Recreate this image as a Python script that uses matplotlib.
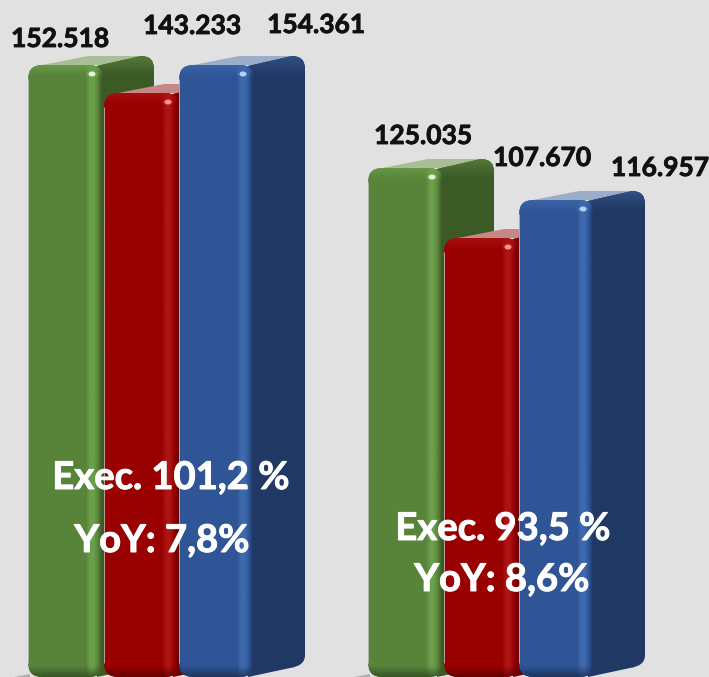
import numpy as np
import matplotlib
matplotlib.use("Agg")
import matplotlib.pyplot as plt
from matplotlib.colors import to_rgb
from matplotlib.patches import Ellipse, FancyBboxPatch, PathPatch, Polygon
from matplotlib.path import Path
import matplotlib.patheffects as pe

# bars are not to scale in the original, so heights are read off the picture
green_heights = [612, 509]
red_heights = [584, 439]
blue_heights = [612, 477]

green_labels = ["152.518", "125.035"]
red_labels = ["143.233", "107.670"]
blue_labels = ["154.361", "116.957"]

exec_labels = ["Exec. 101,2 %", "Exec. 93,5 %"]
yoy_labels = ["YoY: 7,8%", "YoY: 8,6%"]

# front, band, side, top, highlight
green_cols = ["#58843a", "#6b9f4b", "#3b5a25", "#a9bd97", "#eef8e0"]
red_cols = ["#990000", "#ad1414", "#6e0000", "#c78787", "#ff9c9c"]
blue_cols = ["#2f5597", "#3f69ad", "#203864", "#9badc9", "#bcd8ff"]

fig = plt.figure(figsize=(7.09, 6.77), dpi=100, facecolor="#e1e1e1")
ax = fig.add_axes([0, 0, 1, 1])
ax.set_axis_off()


def draw_bar(x0, h, cols, z):
    x1 = x0 + 60      # end of flat front
    x2 = x0 + 75      # end of bright band
    x3 = x0 + 126     # back of the side face
    rise = 9

    # top face
    ax.add_patch(Polygon([(x0 + 14, h), (x0 + 60, h + rise), (x3 - 8, h + rise), (x2, h)],
                         closed=True, fc=cols[3], ec="none", zorder=z))

    # side face, lighter along the top edge
    verts = [(x2 - 6, h - 1), (x3 - 13, h + rise), (x3, h + rise), (x3, h + rise - 13),
             (x3, 22), (x3, 11), (x3 - 15, 9), (x2 - 6, 0), (x2 - 6, h - 1)]
    codes = [Path.MOVETO, Path.LINETO, Path.CURVE3, Path.CURVE3, Path.LINETO,
             Path.CURVE3, Path.CURVE3, Path.LINETO, Path.CLOSEPOLY]
    side = PathPatch(Path(verts, codes), fc=cols[2], ec="none", zorder=z + 0.1)
    ax.add_patch(side)
    top_rgb = np.array(to_rgb(cols[1])) * 0.75
    side_grad = np.linspace(top_rgb, np.array(to_rgb(cols[2])), 6).reshape(6, 1, 3)
    im = ax.imshow(side_grad, extent=(x2 - 6, x3, h - 12, h + rise), aspect="auto", origin="upper",
                   interpolation="bilinear", zorder=z + 0.15)
    im.set_clip_path(side)

    # front face with its shaded corner band
    box = FancyBboxPatch((x0, 0), x2 - x0, h, boxstyle="round,pad=0,rounding_size=14",
                         fc=cols[0], ec="none", zorder=z + 0.2)
    ax.add_patch(box)
    stops = [cols[0], cols[1], cols[1], cols[0], cols[2]]
    grad = np.array([[to_rgb(c) for c in stops]])
    im = ax.imshow(grad, extent=(x1 - 4, x2 + 1, 0, h), aspect="auto",
                   interpolation="bilinear", zorder=z + 0.3)
    im.set_clip_path(box)

    # darker foot and lighter head of the front face
    foot = np.zeros((8, 1, 4))
    foot[:, :, :3] = np.array(to_rgb(cols[2])) * 0.8
    foot[:, :, 3] = np.linspace(0, 0.75, 8).reshape(8, 1)
    im = ax.imshow(foot, extent=(x0, x2 + 1, 0, 12), aspect="auto", origin="upper",
                   interpolation="bilinear", zorder=z + 0.35)
    im.set_clip_path(box)
    head = np.ones((8, 1, 4))
    head[:, :, :3] = np.array(to_rgb(cols[1]))
    head[:, :, 3] = np.linspace(0.7, 0, 8).reshape(8, 1)
    im = ax.imshow(head, extent=(x0, x2 + 1, h - 12, h), aspect="auto", origin="upper",
                   interpolation="bilinear", zorder=z + 0.35)
    im.set_clip_path(box)

    # light line down the left edge
    ax.vlines(x0, 14, h - 14, color="#bdbdbd", lw=0.6, zorder=z + 0.36)

    # highlight on the corner
    ax.add_patch(Ellipse((x2 - 11, h - 9), 12, 9, fc=cols[1], ec="none", alpha=0.9, zorder=z + 0.4))
    ax.add_patch(Ellipse((x2 - 11, h - 9), 7, 5, fc=cols[4], ec="none", alpha=0.95, zorder=z + 0.5))


group_x = [28, 368]
for i in range(len(group_x)):
    x = group_x[i]
    # floor shadow left of the green bar
    ax.add_patch(Polygon([(x - 14, 0), (x + 2, 3), (x + 2, 0)], closed=True,
                         fc="#9a9a9a", ec="none", alpha=0.7, zorder=1))
    draw_bar(x, green_heights[i], green_cols, 2)
    draw_bar(x + 76, red_heights[i], red_cols, 3)
    draw_bar(x + 151, blue_heights[i], blue_cols, 4)

ax.set_xlim(0, 709)
ax.set_ylim(0, 677)

# thin stroke to get the heavier look of the original's bold
label_font = dict(family="Lato", fontweight="bold", color="#111111", fontsize=19,
                  ha="center", va="center", zorder=10,
                  path_effects=[pe.withStroke(linewidth=0.6, foreground="#111111")])
ax.text(60, 638, green_labels[0], **label_font)
ax.text(192, 651, red_labels[0], **label_font)
ax.text(316, 652, blue_labels[0], **label_font)
ax.text(423, 541, green_labels[1], **label_font)
ax.text(542, 519, red_labels[1], **label_font)
ax.text(660, 509, blue_labels[1], **label_font)

white_font = dict(family="Lato", fontweight="bold", color="white", fontsize=27.5,
                  ha="center", va="center", zorder=10,
                  path_effects=[pe.withStroke(linewidth=0.7, foreground="white")])
ax.text(171, 199, exec_labels[0], **white_font)
ax.text(162, 136, yoy_labels[0], **white_font)
ax.text(503, 148, exec_labels[1], **white_font)
ax.text(502, 97, yoy_labels[1], **white_font)

fig.savefig("out.png", dpi=100, facecolor=fig.get_facecolor())
